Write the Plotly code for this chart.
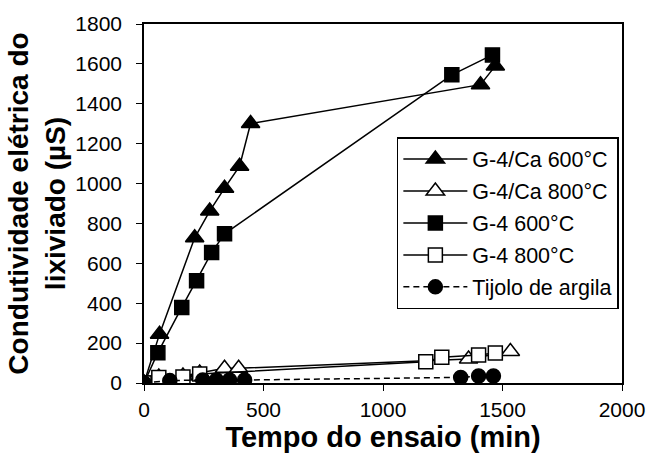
import plotly.graph_objects as go

# G-4/Ca 600°C
ca600_x = [0, 65, 212, 275, 337, 400, 446, 1408, 1470]
ca600_y = [0, 245, 728, 862, 977, 1087, 1301, 1496, 1590]
# G-4/Ca 800°C
ca800_x = [0, 62, 163, 233, 337, 396, 1358, 1533]
ca800_y = [0, 30, 35, 50, 74, 74, 120, 158]
# G-4 600°C
g600_x = [0, 58, 158, 220, 283, 337, 1288, 1458]
g600_y = [0, 152, 379, 513, 654, 748, 1545, 1645]
# G-4 800°C
g800_x = [0, 62, 163, 233, 1179, 1246, 1400, 1470]
g800_y = [0, 28, 30, 45, 107, 129, 140, 150]
# Tijolo de argila
tij_x = [0, 108, 246, 303, 358, 421, 1325, 1400, 1462]
tij_y = [0, 12, 15, 15, 15, 15, 28, 35, 35]

fig = go.Figure()
def add(name, x, y, symbol, color, dash="solid", size=13):
    fig.add_trace(go.Scatter(
        x=x, y=y, name=name, mode="lines+markers", legendgroup=name,
        line=dict(color="black", width=1.5, dash=dash),
        marker=dict(symbol=symbol, size=size, color=color,
                    line=dict(color="black", width=1.5)),
    ))

add("G-4/Ca 600°C", ca600_x, ca600_y, "triangle-up", "black", size=16)
add("G-4/Ca 800°C", ca800_x, ca800_y, "triangle-up", "white", size=16)
add("G-4 600°C", g600_x, g600_y, "square", "black", size=14)
add("G-4 800°C", g800_x, g800_y, "square", "white", size=14)
add("Tijolo de argila", tij_x, tij_y, "circle", "black", dash="6px,4px", size=14)

font = "Arial, Liberation Sans, sans-serif"
fig.update_layout(
    width=657, height=455,
    margin=dict(l=144, r=33, t=22, b=72),
    paper_bgcolor="white", plot_bgcolor="white",
    font=dict(family=font, color="black"),
    showlegend=True,
    legend=dict(x=0.529, y=0.685, xanchor="left", yanchor="top",
                bordercolor="black", borderwidth=1.5, bgcolor="white",
                font=dict(size=21.5, family=font, color="black"),
                tracegroupgap=1, itemwidth=64),
    xaxis=dict(range=[0, 2000], tickvals=[0, 500, 1000, 1500, 2000],
               showgrid=False, zeroline=False, showline=True, linecolor="black",
               linewidth=1.5, mirror=True, ticks="outside", ticklen=6,
               tickcolor="black", tickfont=dict(size=21), ticklabelstandoff=1,
               title=dict(text="<b>Tempo do ensaio (min)</b>", font=dict(size=29), standoff=0)),
    yaxis=dict(range=[0, 1800], tickvals=list(range(0, 1801, 200)),
               showgrid=False, zeroline=False, showline=True, linecolor="black",
               linewidth=1.5, mirror=True, ticks="outside", ticklen=6,
               tickcolor="black", tickfont=dict(size=21), ticklabelstandoff=10,
               title=dict(text="<b>Condutividade elétrica do<br>lixiviado (µS)</b>", font=dict(size=28), standoff=2)),
)
fig.write_html("out.html", config={"displayModeBar": False},
               post_script="document.body.style.margin='0';")
